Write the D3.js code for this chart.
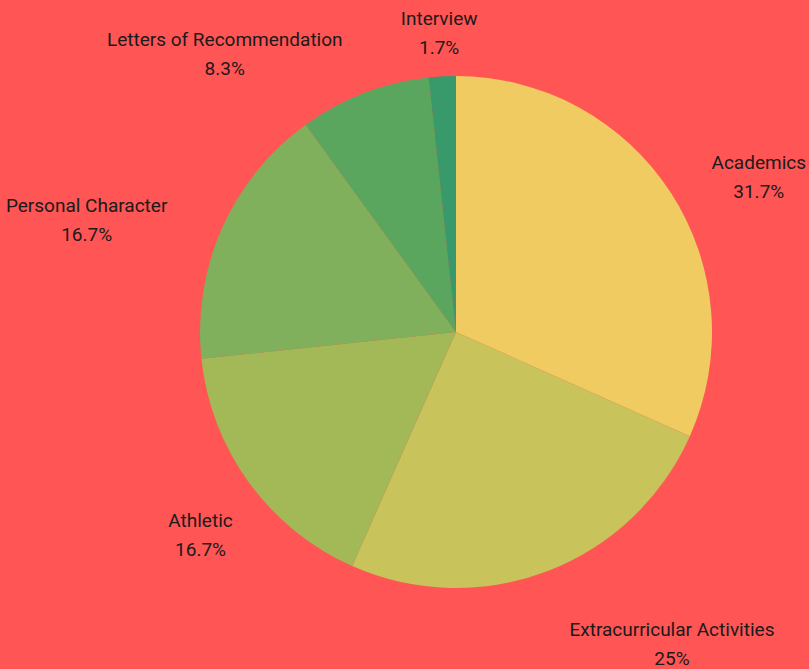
<!DOCTYPE html>
<html>
<head>
<meta charset="utf-8">
<script src="https://cdn.jsdelivr.net/npm/d3@7"></script>
<style>
  html, body { margin: 0; padding: 0; background: #ff5555; }
  text { font-family: Roboto, "Noto Sans", sans-serif; font-size: 19px; fill: #1a1a1a; }
</style>
</head>
<body>
<div id="chart"></div>
<script>
    var categories = ["Academics", "Extracurricular Activities", "Athletic", "Personal Character", "Letters of Recommendation", "Interview"];
    var values = [31.7, 25, 16.7, 16.7, 8.3, 1.7];
    var valueLabels = ["31.7%", "25%", "16.7%", "16.7%", "8.3%", "1.7%"];
    var colors = ["#f0cb62", "#c8c35a", "#a3b856", "#80b05b", "#5ba65f", "#389a6a"];

    var width = 809, height = 669,
    cx = 456, cy = 332, radius = 256, labelRadius = 316;

    var data = categories.map(function(c, i) { return { name: c, value: values[i], label: valueLabels[i], color: colors[i] }; });

    var svg = d3.select("#chart").append("svg")
    .attr("width", width)
    .attr("height", height)
    .append("g")
    .attr("transform", "translate(" + cx + "," + cy + ")");

    var pie = d3.pie().sort(null).value(function(d) { return d.value; });
    var arc = d3.arc().innerRadius(0).outerRadius(radius);
    var arcs = pie(data);

    svg.selectAll("path.slice")
    .data(arcs)
    .enter().append("path")
    .attr("class", "slice")
    .attr("fill", function(d) { return d.data.color; })
    .attr("d", arc);

    // labels sit on a ring outside the pie, anchored by side
    function midAngle(d) { return (d.startAngle + d.endAngle) / 2; }
    function anchor(d) {
        var deg = midAngle(d) * 180 / Math.PI;
        if (deg > 20 && deg < 200) return "start";
        if (deg > 250 && deg < 350) return "end";
        return "middle";
    }

    var labels = svg.selectAll("g.label")
    .data(arcs)
    .enter().append("g")
    .attr("class", "label")
    .attr("transform", function(d) {
        var a = midAngle(d);
        return "translate(" + (labelRadius * Math.sin(a)) + "," + (-labelRadius * Math.cos(a)) + ")";
    });

    labels.each(function(d) {
        var g = d3.select(this);
        var a = midAngle(d);
        var px = cx + labelRadius * Math.sin(a);
        var t1 = g.append("text").attr("y", 9).attr("text-anchor", "middle").text(d.data.name);
        var w = t1.node().getComputedTextLength();
        var shift = anchor(d) === "start" ? w / 2 : anchor(d) === "end" ? -w / 2 : 0;
        // keep the label inside the page
        if (px + shift + w / 2 > width - 3) shift = width - 3 - w / 2 - px;
        if (px + shift - w / 2 < 3) shift = 3 + w / 2 - px;
        t1.attr("x", shift);
        g.append("text").attr("x", shift).attr("y", 38).attr("text-anchor", "middle").text(d.data.label);
    });
</script>
</body>
</html>
